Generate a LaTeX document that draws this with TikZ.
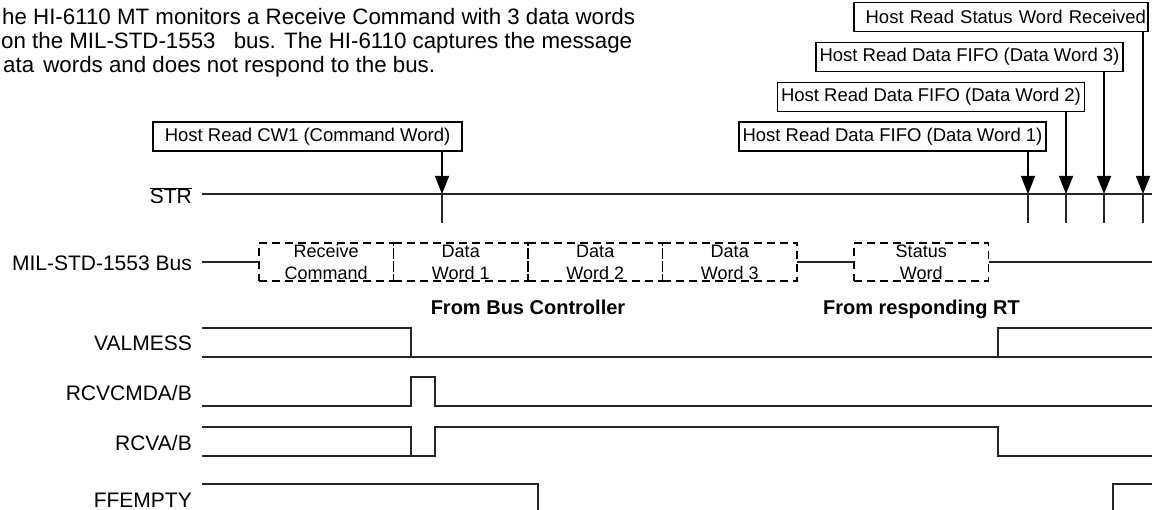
\documentclass[tikz,border=0pt]{standalone}
\usepackage{fontspec}
\setmainfont{Liberation Sans}
\usetikzlibrary{arrows.meta,positioning}
\newcommand{\notesize}{\fontsize{22.3}{24}\selectfont}
\newcommand{\sigsize}{\fontsize{21}{24}\selectfont}
\newcommand{\hostsize}{\fontsize{18.5}{22}\selectfont}
\newcommand{\wordsize}{\fontsize{18}{22}\selectfont}
\newcommand{\fromsize}{\fontsize{20}{24}\selectfont\bfseries}

\begin{document}
\begin{tikzpicture}[
    x=1pt, y=-1pt,
    hostbox/.style={rectangle, draw, line width=1.3pt, minimum height=29pt, inner sep=0pt, font=\hostsize},
    busword/.style={rectangle, draw, dash pattern=on 8pt off 5pt, line width=1.5pt, minimum width=134.5pt, minimum height=38pt, inner sep=0pt, outer sep=0pt, align=center, font=\wordsize},
    siglabel/.style={anchor=base east, font=\sigsize, inner sep=0pt},
    sig/.style={line width=1.8pt, black!85},
    readarrow/.style={-{Triangle[length=18pt, width=14pt]}, line width=1.8pt}
]
\useasboundingbox (0,0) rectangle (1152,510);

% note text
\node[anchor=base west, font=\notesize, inner sep=0pt] (note1) at (2,25) {he HI-6110 MT monitors a Receive Command with 3 data words};
\node[anchor=base west, font=\notesize, inner sep=0pt] (note2) at (1,49) {on the MIL-STD-1553\hspace{12pt} bus. The HI-6110 captures the message};
\node[anchor=base west, font=\notesize, inner sep=0pt] (note3) at (3,73) {ata\hspace{3pt} words and does not respond to the bus.};

% host reads
\node[hostbox, minimum width=309pt] (cw1) at (307.5,136.5) {Host Read CW1 (Command Word)};
\node[hostbox, minimum width=307pt] (dw1) at (892.5,136.5) {Host Read Data FIFO (Data Word 1)};
\node[hostbox, minimum width=307pt, above=9.5pt of dw1, xshift=38.5pt] (dw2) {Host Read Data FIFO (Data Word 2)};
\node[hostbox, minimum width=307pt, above=9.5pt of dw2, xshift=38.5pt] (dw3) {Host Read Data FIFO (Data Word 3)};
\node[hostbox, text width=290pt, align=right, inner xsep=2pt, above=9.5pt of dw3, xshift=31.5pt] (stat) {Host Read Status Word Received};

% STR
\node[siglabel] (str) at (192,204) {$\overline{\mbox{STR}}$};
\draw[sig] (202,194) -- (1152,194);
\coordinate (r0) at (442,194);
\foreach \x [count=\i] in {1028,1066,1104,1143}
    \coordinate (r\i) at (\x,194);
\draw[readarrow] (cw1.south -| r0) -- (r0);
\draw[readarrow] (dw1.south -| r1) -- (r1);
\draw[readarrow] (dw2.south -| r2) -- (r2);
\draw[readarrow] (dw3.south -| r3) -- (r3);
\draw[readarrow] (stat.south -| r4) -- (r4);
\foreach \i in {0,...,4}
    \draw[sig] (r\i) -- ++(0,29);

% bus
\node[siglabel] (bus) at (192,271) {MIL-STD-1553 Bus};
\node[busword] (rc) at (326.25,262) {Receive\\Command};
\node[busword, right=0pt of rc] (w1) {Data\\Word 1};
\node[busword, right=0pt of w1] (w2) {Data\\Word 2};
\node[busword, right=0pt of w2] (w3) {Data\\Word 3};
\node[busword, right=57pt of w3] (sw) {Status\\Word};
\draw[sig] (202,262) -- (rc);
\draw[sig] (w3) -- (sw);
\draw[sig] (sw) -- (1152,262);
\node[font=\fromsize, anchor=base, inner sep=0pt] (fbc) at (528,315) {From Bus Controller};
\node[font=\fromsize, anchor=base, inner sep=0pt] (frt) at (921.5,315) {From responding RT};

% VALMESS
\node[siglabel] (valmess) at (192,350.5) {VALMESS};
\draw[sig] (202,328) -- (411,328) -- (411,357);
\draw[sig] (202,357) -- (1152,357);
\draw[sig] (998,357) -- (998,328) -- (1152,328);

% RCVCMDA/B
\node[siglabel] (rcvcmd) at (192,400.5) {RCVCMDA/B};
\draw[sig] (202,406) -- (411,406) -- (411,377) -- (435,377) -- (435,406) -- (1152,406);

% RCVA/B
\node[siglabel] (rcva) at (192,450.5) {RCVA/B};
\draw[sig] (202,427) -- (411,427) -- (411,456);
\draw[sig] (202,456) -- (435,456) -- (435,427) -- (998,427) -- (998,456) -- (1152,456);

% FFEMPTY
\node[siglabel] (ffempty) at (192,507.5) {FFEMPTY};
\draw[sig] (202,484) -- (538,484) -- (538,513) -- (1113,513) -- (1113,484) -- (1152,484);
\end{tikzpicture}
\end{document}
